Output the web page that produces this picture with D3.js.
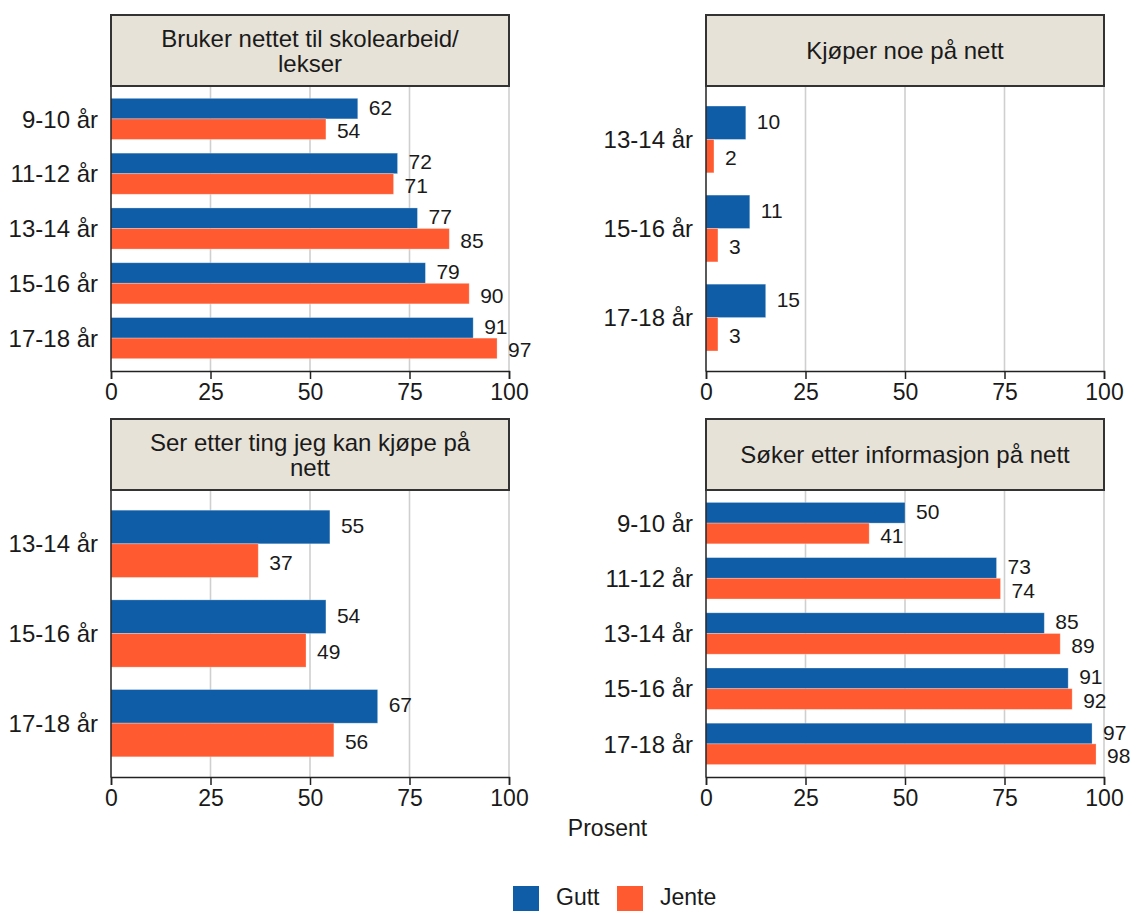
<!DOCTYPE html>
<html>
<head>
<meta charset="utf-8">
<script src="https://cdn.jsdelivr.net/npm/d3@7"></script>
<style>
  html, body { margin: 0; padding: 0; background: #fff; }
  svg { display: block; font-family: "Liberation Sans", Arial, sans-serif; }
</style>
</head>
<body>
<svg id="chart" width="1135" height="911"></svg>
<script>
// ---- Data ----
const series = ["Gutt", "Jente"];
const seriesColors = ["#0F5DA6", "#FF5A30"];
const xTicks = [0, 25, 50, 75, 100];
const axisTitle = "Prosent";

const panelTitles = [
  ["Bruker nettet til skolearbeid/", "lekser"],
  ["Kjøper noe på nett"],
  ["Ser etter ting jeg kan kjøpe på", "nett"],
  ["Søker etter informasjon på nett"]
];
const catsFive = ["9-10 år", "11-12 år", "13-14 år", "15-16 år", "17-18 år"];
const catsThree = ["13-14 år", "15-16 år", "17-18 år"];

const skoleGutt = [62, 72, 77, 79, 91];
const skoleJente = [54, 71, 85, 90, 97];
const kjoperGutt = [10, 11, 15];
const kjoperJente = [2, 3, 3];
const serEtterGutt = [55, 54, 67];
const serEtterJente = [37, 49, 56];
const sokerGutt = [50, 73, 85, 91, 97];
const sokerJente = [41, 74, 89, 92, 98];

const panels = [
  { title: panelTitles[0], cats: catsFive,  values: [skoleGutt, skoleJente] },
  { title: panelTitles[1], cats: catsThree, values: [kjoperGutt, kjoperJente] },
  { title: panelTitles[2], cats: catsThree, values: [serEtterGutt, serEtterJente] },
  { title: panelTitles[3], cats: catsFive,  values: [sokerGutt, sokerJente] }
];

// ---- Layout ----
const svg = d3.select("#chart");
const cols = [{ x0: 111, x1: 509 }, { x0: 706, x1: 1104 }];
const rows = [
  { s0: 15, s1: 86, p1: 371 },
  { s0: 419, s1: 490, p1: 777 }
];
const textColor = "#1a1a1a";

panels.forEach((p, i) => {
  const c = cols[i % 2], r = rows[Math.floor(i / 2)];
  const g = svg.append("g");

  const x = d3.scaleLinear().domain([0, 100]).range([c.x0, c.x1]);
  const y = d3.scaleBand().domain(p.cats).range([r.s1, r.p1])
    .paddingInner(0.25).paddingOuter(0.225);
  const ySub = d3.scaleBand().domain(series).range([0, y.bandwidth()]);

  // grid
  g.append("g").selectAll("line").data(xTicks.filter(t => t > 0)).join("line")
    .attr("x1", d => x(d)).attr("x2", d => x(d))
    .attr("y1", r.s1).attr("y2", r.p1)
    .attr("stroke", "#cfcfcf").attr("stroke-width", 1.6);

  // bars
  series.forEach((s, si) => {
    const data = p.cats.map((cat, ci) => ({ cat, v: p.values[si][ci] }));
    g.append("g").selectAll("rect").data(data).join("rect")
      .attr("x", x(0))
      .attr("y", d => y(d.cat) + ySub(s))
      .attr("width", d => x(d.v) - x(0))
      .attr("height", ySub.bandwidth())
      .attr("fill", seriesColors[si])
      .attr("stroke", "#ffffff").attr("stroke-opacity", 0.35).attr("stroke-width", 0.8);
    g.append("g").selectAll("text").data(data).join("text")
      .attr("x", d => x(d.v) + 11)
      .attr("y", d => y(d.cat) + ySub(s) + ySub.bandwidth() / 2 + (si === 0 ? -1.5 : 1.5))
      .attr("dy", "0.36em")
      .attr("font-size", 21)
      .attr("fill", textColor)
      .text(d => d.v);
  });

  // y axis line and labels
  g.append("line").attr("x1", c.x0).attr("x2", c.x0)
    .attr("y1", r.s1).attr("y2", r.p1 + 0.5)
    .attr("stroke", "#222").attr("stroke-width", 1.5);
  g.append("g").selectAll("text").data(p.cats).join("text")
    .attr("x", c.x0 - 13)
    .attr("y", d => y(d) + y.bandwidth() / 2)
    .attr("dy", "0.36em")
    .attr("text-anchor", "end")
    .attr("font-size", 24)
    .attr("fill", textColor)
    .text(d => d);

  // x axis
  const ax = g.append("g").attr("transform", `translate(0,${r.p1})`)
    .call(d3.axisBottom(x).tickValues(xTicks).tickSize(8).tickPadding(5));
  ax.select(".domain").attr("stroke", "#222").attr("stroke-width", 1.5);
  ax.selectAll(".tick line").attr("stroke", "#222").attr("stroke-width", 1.5);
  ax.selectAll(".tick text").attr("font-size", 23).attr("fill", textColor)
    .attr("font-family", "Liberation Sans, Arial, sans-serif");

  // strip
  g.append("rect").attr("x", c.x0).attr("y", r.s0)
    .attr("width", c.x1 - c.x0).attr("height", r.s1 - r.s0)
    .attr("fill", "#E7E2D7").attr("stroke", "#333").attr("stroke-width", 2);
  const mid = (r.s0 + r.s1) / 2;
  const lh = 25;
  const n = p.title.length;
  p.title.forEach((line, li) => {
    g.append("text")
      .attr("x", (c.x0 + c.x1) / 2)
      .attr("y", mid + (li - (n - 1) / 2) * lh)
      .attr("dy", "0.36em")
      .attr("text-anchor", "middle")
      .attr("font-size", 24)
      .attr("fill", textColor)
      .text(line);
  });
});

// axis title
svg.append("text").attr("x", 607.5).attr("y", 836)
  .attr("text-anchor", "middle").attr("font-size", 23).attr("fill", textColor)
  .text(axisTitle);

// legend
const legendItems = [
  { label: series[0], color: seriesColors[0], x: 513 },
  { label: series[1], color: seriesColors[1], x: 617 }
];
const lg = svg.append("g");
legendItems.forEach(it => {
  lg.append("rect").attr("x", it.x).attr("y", 886).attr("width", 26).attr("height", 25)
    .attr("fill", it.color);
  lg.append("text").attr("x", it.x + 43).attr("y", 905)
    .attr("font-size", 23).attr("fill", textColor).text(it.label);
});
</script>
</body>
</html>
